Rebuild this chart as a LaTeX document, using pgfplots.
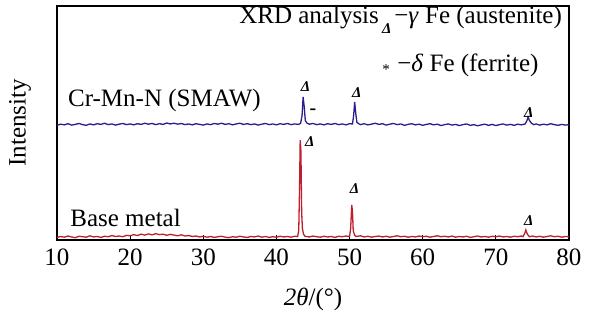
\documentclass[border=0pt]{standalone}
\usepackage{pgfplots}
\pgfplotsset{compat=1.18}
\usepackage{fontspec}
\setmainfont{Liberation Serif}
\definecolor{bluetr}{RGB}{42,30,140}
\definecolor{redtr}{RGB}{190,30,45}
\newcommand{\dmark}{{\fontsize{15}{15}\selectfont\bfseries\itshape Δ}}
\begin{document}
\begin{tikzpicture}
\useasboundingbox (-57pt,-83pt) rectangle (539pt,240pt);
\begin{axis}[
  scale only axis, width=512pt, height=234pt,
  xmin=10, xmax=80, ymin=0, ymax=100,
  xtick={10,20,...,80}, ytick=\empty,
  xtick pos=bottom, tick align=inside, major tick length=5pt,
  tick style={black, line width=1.2pt},
  axis line style={black, line width=1.3pt},
  font=\fontsize{25}{27}\selectfont,
  /pgf/number format/assume math mode=true,
  xticklabel style={font=\fontsize{25}{27}\selectfont, yshift=-5pt},
  xlabel={\textit{2θ}/(°)},
  ylabel={Intensity},
  xlabel style={at={(axis description cs:0.5,-0.256)}, anchor=center},
  ylabel style={at={(axis description cs:-0.072,0.5)}, anchor=center},
  clip=false,
]
\addplot[redtr, line width=1.3pt] coordinates {
(10,1.1) (10.5,1.5) (11,1.2) (11.5,1.7) (12,1.3) (12.5,1.0) (13,1.6) (13.5,1.4) (14,1.2) (14.5,1.8)
(15,1.3) (15.5,1.5) (16,1.1) (16.5,1.6) (17,1.4) (17.5,1.9) (18,1.5) (18.5,1.7) (19,1.4) (19.5,2.0)
(20,1.8) (20.5,2.3) (21,1.9) (21.5,2.5) (22,2.1) (22.5,2.6) (23,2.2) (23.5,2.7) (24,2.3) (24.5,2.5)
(25,2.0) (25.5,2.4) (26,2.1) (26.5,1.8) (27,2.2) (27.5,1.7) (28,1.9) (28.5,1.5) (29,1.7) (29.5,1.3)
(30,1.6) (30.5,1.2) (31,1.5) (31.5,1.1) (32,1.4) (32.5,1.6) (33,1.2) (33.5,1.0) (34,1.4) (34.5,1.2)
(35,1.6) (35.5,1.3) (36,1.1) (36.5,1.5) (37,1.3) (37.5,1.7) (38,1.2) (38.5,1.5) (39,1.1) (39.5,1.4)
(40,1.2) (40.5,1.6) (41,1.3) (41.5,1.5) (42,1.2) (42.5,1.6) (42.9,1.5) (43.05,4) (43.15,20) (43.25,42.7)
(43.35,38) (43.45,12) (43.55,5) (43.7,2.5) (43.9,1.6) (44.5,1.3) (45,1.7) (45.5,1.4) (46,1.2) (46.5,1.6)
(47,1.3) (47.5,1.5) (48,1.1) (48.5,1.6) (49,1.4) (49.5,1.7) (50.0,1.5) (50.15,5) (50.3,15) (50.4,12)
(50.5,4) (50.7,2) (50.9,1.5) (51.5,1.8) (52,1.3) (52.5,1.6) (53,1.2) (53.5,1.5) (54,1.7) (54.5,1.3)
(55,1.6) (55.5,1.2) (56,1.5) (56.5,1.8) (57,1.4) (57.5,1.6) (58,1.2) (58.5,1.5) (59,1.3) (59.5,1.7)
(60,1.4) (60.5,1.6) (61,1.2) (61.5,1.5) (62,1.8) (62.5,1.4) (63,1.6) (63.5,1.3) (64,1.7) (64.5,1.2)
(65,1.5) (65.5,1.3) (66,1.6) (66.5,1.1) (67,1.4) (67.5,1.7) (68,1.3) (68.5,1.5) (69,1.2) (69.5,1.6)
(70,1.4) (70.5,1.7) (71,1.3) (71.5,1.5) (72,1.2) (72.5,1.6) (73,1.4) (73.5,1.7) (73.7,1.4) (73.95,2.8)
(74.1,4.3) (74.3,2.5) (74.6,1.4) (75,1.7) (75.5,1.3) (76,1.6) (76.5,1.2) (77,1.5) (77.5,1.8) (78,1.4)
(78.5,1.6) (79,1.2) (79.5,1.5) (80,1.4)
};
\addplot[bluetr, line width=1.3pt] coordinates {
(10,49.0) (10.5,49.5) (11,49.2) (11.5,49.7) (12,49.1) (12.5,49.4) (13,49.8) (13.5,49.3) (14,49.0) (14.5,49.6)
(15,49.2) (15.5,49.7) (16,49.4) (16.5,49.9) (17,49.3) (17.5,49.6) (18,49.1) (18.5,49.5) (19,49.8) (19.5,49.3)
(20,49.6) (20.5,49.2) (21,49.7) (21.5,49.4) (22,49.9) (22.5,49.5) (23,49.8) (23.5,49.3) (24,49.7) (24.5,49.4)
(25,50.0) (25.5,49.6) (26,49.9) (26.5,49.5) (27,49.8) (27.5,49.3) (28,49.6) (28.5,49.2) (29,49.7) (29.5,49.4)
(30,49.1) (30.5,49.6) (31,49.3) (31.5,49.8) (32,49.5) (32.5,49.9) (33,49.4) (33.5,49.7) (34,49.2) (34.5,49.6)
(35,49.9) (35.5,49.4) (36,49.7) (36.5,49.3) (37,49.6) (37.5,49.1) (38,49.5) (38.5,49.8) (39,49.3) (39.5,49.6)
(40,49.2) (40.5,49.7) (41,49.4) (41.5,49.8) (42,49.3) (42.5,49.6) (43,49.4) (43.3,49.8) (43.5,53) (43.65,61.1)
(43.8,57) (43.95,51) (44.2,49.9) (44.5,49.5) (45,49.8) (45.5,49.3) (46,49.6) (46.5,49.2) (47,49.7) (47.5,49.4)
(48,49.8) (48.5,49.3) (49,49.6) (49.5,49.2) (50,49.7) (50.4,49.6) (50.55,53) (50.7,59) (50.85,54) (51.0,50.3)
(51.3,49.6) (51.5,49.3) (52,49.7) (52.5,49.2) (53,49.5) (53.5,49.9) (54,49.4) (54.5,49.7) (55,49.1) (55.5,49.5)
(56,49.8) (56.5,49.3) (57,49.6) (57.5,49.0) (58,49.4) (58.5,49.7) (59,49.2) (59.5,49.5) (60,49.0) (60.5,49.4)
(61,49.7) (61.5,49.2) (62,49.5) (62.5,48.9) (63,49.3) (63.5,49.6) (64,49.1) (64.5,49.4) (65,48.9) (65.5,49.3)
(66,49.6) (66.5,49.0) (67,49.3) (67.5,48.8) (68,49.2) (68.5,49.5) (69,49.0) (69.5,49.4) (70,48.9) (70.5,49.3)
(71,49.6) (71.5,49.1) (72,49.4) (72.5,49.0) (73,49.5) (73.5,49.2) (74,49.6) (74.25,51) (74.4,52.6) (74.6,51)
(74.9,49.8) (75.2,49.3) (75.5,49.6) (76,49.1) (76.5,49.5) (77,49.2) (77.5,49.7) (78,49.3) (78.5,49.0) (79,49.4)
(79.5,49.1) (80,49.3)
};
% peak labels
\addplot[only marks, mark=none, nodes near coords, point meta=explicit symbolic,
  every node near coord/.style={anchor=center, inner sep=0pt, black}] table[meta=label] {
x y label
44.56 41.9 \dmark
50.7 22.2 \dmark
74.5 8.1 \dmark
44.0 65.4 \dmark
51.0 62.8 \dmark
74.5 54.3 \dmark
};
\addplot[only marks, mark=none, nodes near coords, point meta=explicit symbolic,
  every node near coord/.style={anchor=center, inner sep=0pt, black}] table[meta=label] {
x y label
45.0 54.9 {\fontsize{20}{20}\selectfont\bfseries -}
};
% texts
\node[anchor=west, inner sep=0pt] at (axis cs:34.9,94.9) {XRD analysis};
\node[anchor=center, inner sep=0pt] at (axis cs:55.1,90.2) {\dmark};
\node[anchor=west, inner sep=0pt] at (axis cs:56.1,94.9) {−\textit{γ} Fe (austenite)};
\node[anchor=center, inner sep=0pt] at (axis cs:55.0,72.8) {{\fontsize{15}{15}\selectfont *}};
\node[anchor=west, inner sep=0pt] at (axis cs:56.5,74.8) {−\textit{δ} Fe (ferrite)};
\node[anchor=west, inner sep=0pt] at (axis cs:11.5,59.8) {Cr-Mn-N (SMAW)};
\node[anchor=west, inner sep=0pt] at (axis cs:11.8,9.4) {Base metal};
\end{axis}
\end{tikzpicture}
\end{document}
